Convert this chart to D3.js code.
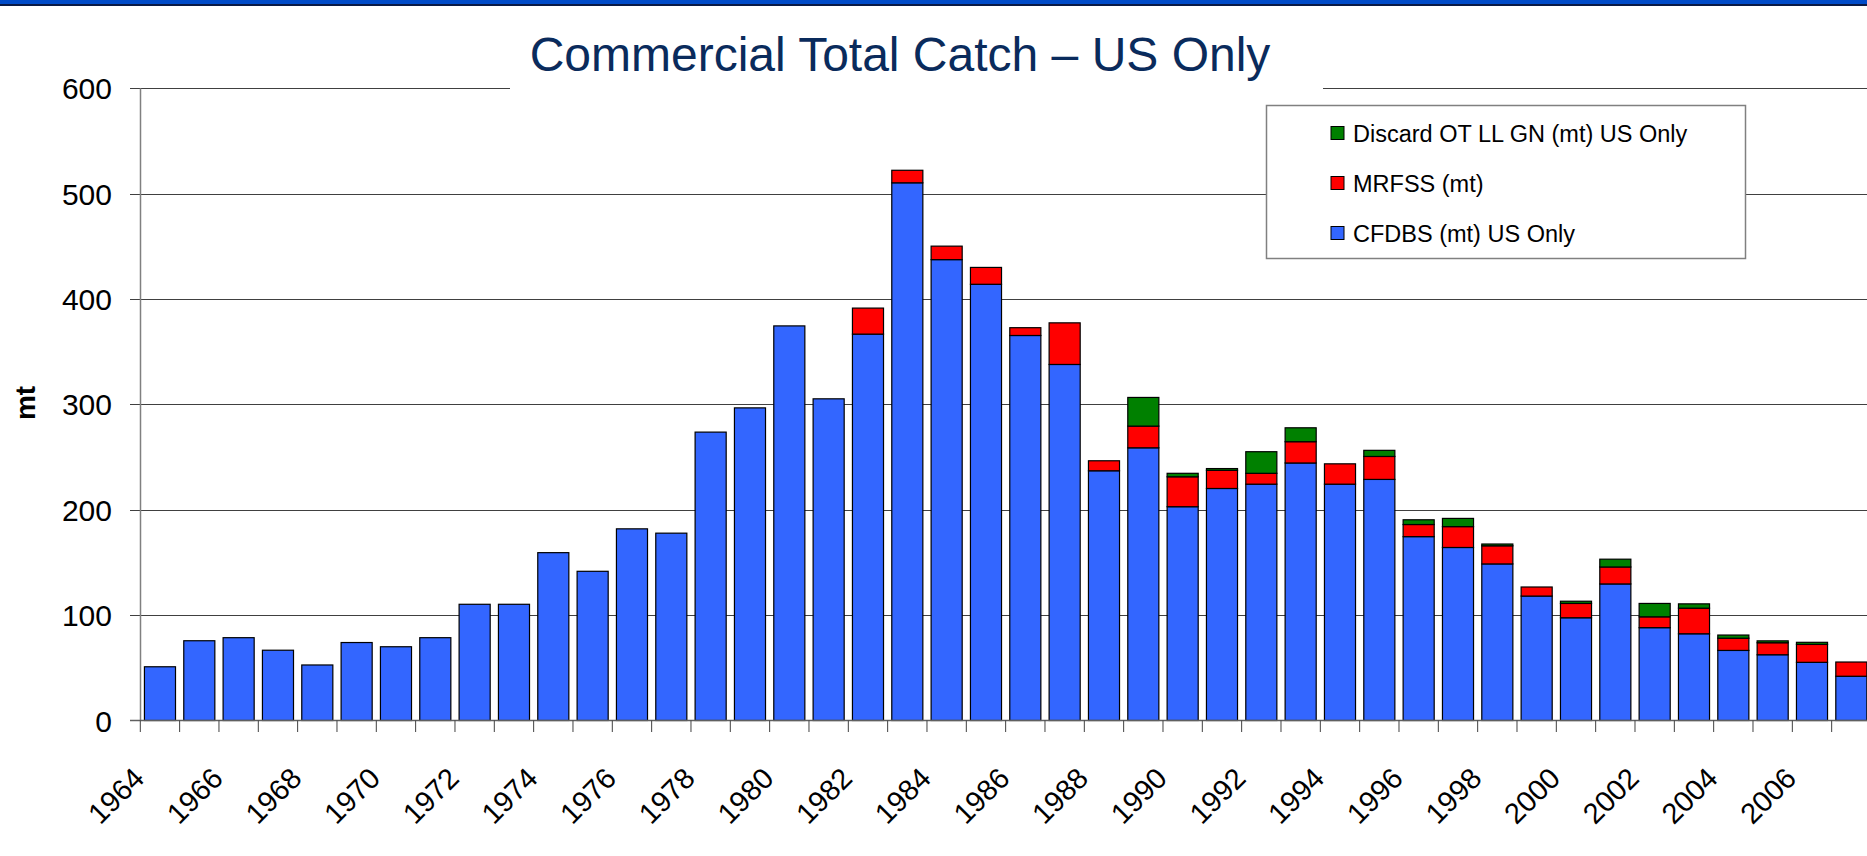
<!DOCTYPE html>
<html>
<head>
<meta charset="UTF-8">
<title>Commercial Total Catch - US Only</title>
<script src="https://d3js.org/d3.v7.min.js"></script>
<style>
  body { margin: 0; background: #fff; }
  text { font-family: "Liberation Sans", Arial, sans-serif; }
</style>
</head>
<body>
<svg id="chart"></svg>
<script>
// data (mt)
const years = d3.range(1964, 2008);
const cfdbs = [51, 75.7, 78.6, 66.7, 52.7, 74, 70, 78.6, 110.3, 110.3,
  159.3, 141.6, 181.9, 177.8, 273.7, 296.7, 374.5, 305.3, 366.7, 510.3,
  437.4, 414, 365.4, 337.9, 237, 258.8, 202.9, 220.2, 224.3, 244.4,
  224.3, 228.8, 174.5, 164.2, 148.6, 118.1, 97.5, 129.6, 88.1, 82.3,
  66.5, 62.4, 55.2, 42];
const mrfss = [0, 0, 0, 0, 0, 0, 0, 0, 0, 0,
  0, 0, 0, 0, 0, 0, 0, 0, 24.7, 11.9,
  12.8, 16, 7.4, 39.5, 9.5, 20.6, 28.4, 17.2, 10.3, 20.2,
  19.3, 21.8, 11.5, 19.8, 17.2, 8.6, 13.6, 16.1, 10.3, 24.3,
  11.6, 11.4, 17, 13.5];
const discard = [0, 0, 0, 0, 0, 0, 0, 0, 0, 0,
  0, 0, 0, 0, 0, 0, 0, 0, 0, 0,
  0, 0, 0, 0, 0, 27.2, 3.3, 1.7, 20.5, 13.2,
  0, 5.8, 4.5, 7.8, 1.7, 0, 2.1, 7.4, 12.7, 4.1,
  3, 1.8, 2, 0];
const seriesNames = ["CFDBS (mt) US Only", "MRFSS (mt)", "Discard OT LL GN (mt) US Only"];
const seriesColors = ["#3366ff", "#ff0000", "#008000"];
const yTicks = [0, 100, 200, 300, 400, 500, 600];
const title = "Commercial Total Catch \u2013 US Only";

const width = 1867, height = 856;
const svg = d3.select("#chart").attr("width", width).attr("height", height);

svg.append("rect").attr("width", width).attr("height", height).attr("fill", "#fff");

// top banner strip
svg.append("rect").attr("x", 0).attr("y", 0).attr("width", width).attr("height", 4).attr("fill", "#004bc8");
svg.append("rect").attr("x", 0).attr("y", 4).attr("width", width).attr("height", 2).attr("fill", "#0a1a45");

const x = d3.scaleBand()
  .domain(years)
  .range([140.3, 1871])
  .paddingInner(0.21)
  .paddingOuter(0.105);

const y = d3.scaleLinear().domain([0, 600]).range([720.5, 88.3]);

// gridlines + y ticks
const grid = svg.append("g");
grid.selectAll("line.grid")
  .data(yTicks.filter(d => d > 0))
  .enter().append("line")
  .attr("class", "grid")
  .attr("x1", 130).attr("x2", 1871)
  .attr("y1", d => Math.round(y(d)) + 0.5).attr("y2", d => Math.round(y(d)) + 0.5)
  .attr("stroke", "#404040").attr("stroke-width", 1.1);

grid.selectAll("text")
  .data(yTicks)
  .enter().append("text")
  .attr("x", 112)
  .attr("y", d => y(d) + 11)
  .attr("text-anchor", "end")
  .attr("font-size", 30)
  .attr("fill", "#000")
  .text(d => d);

// title, drawn over the 600 line
svg.append("rect").attr("x", 510).attr("y", 20).attr("width", 813).attr("height", 75).attr("fill", "#fff");
svg.append("text")
  .attr("x", 900).attr("y", 71)
  .attr("text-anchor", "middle")
  .attr("font-size", 48)
  .attr("fill", "#0a2b5c")
  .text(title);

// stacked bars
const rows = years.map((yr, i) => ({ year: yr, 0: cfdbs[i], 1: mrfss[i], 2: discard[i] }));
const stack = d3.stack().keys([0, 1, 2]);
const layers = stack(rows);

svg.append("g")
  .selectAll("g")
  .data(layers)
  .enter().append("g")
  .attr("fill", d => seriesColors[d.key])
  .selectAll("rect")
  .data(d => d.filter(s => s[1] - s[0] > 0))
  .enter().append("rect")
  .attr("x", d => x(d.data.year))
  .attr("y", d => y(d[1]))
  .attr("width", x.bandwidth())
  .attr("height", d => y(d[0]) - y(d[1]))
  .attr("stroke", "#000")
  .attr("stroke-width", 1.2);

// axes
const step = x.step();
svg.append("line")
  .attr("x1", 140.5).attr("x2", 140.5)
  .attr("y1", y(600)).attr("y2", y(0))
  .attr("stroke", "#808080").attr("stroke-width", 1.5);
svg.append("line")
  .attr("x1", 130).attr("x2", 1871)
  .attr("y1", y(0)).attr("y2", y(0))
  .attr("stroke", "#606060").attr("stroke-width", 1.5);

svg.append("g").selectAll("line")
  .data(years)
  .enter().append("line")
  .attr("x1", d => x(d) + x.bandwidth() / 2 - step / 2)
  .attr("x2", d => x(d) + x.bandwidth() / 2 - step / 2)
  .attr("y1", y(0)).attr("y2", y(0) + 11.5)
  .attr("stroke", "#404040").attr("stroke-width", 1);

svg.append("g").selectAll("text")
  .data(years.filter(d => d % 2 === 0))
  .enter().append("text")
  .attr("transform", d => `translate(${x(d) + x.bandwidth() / 2 - 14},780) rotate(-45)`)
  .attr("text-anchor", "end")
  .attr("font-size", 29)
  .attr("fill", "#000")
  .text(d => d);

// y axis title
svg.append("text")
  .attr("transform", "translate(35,403) rotate(-90)")
  .attr("text-anchor", "middle")
  .attr("font-size", 28)
  .attr("font-weight", "bold")
  .text("mt");

// legend
const legend = svg.append("g");
legend.append("rect")
  .attr("x", 1266.5).attr("y", 105.5).attr("width", 479).attr("height", 153)
  .attr("fill", "#fff").attr("stroke", "#808080").attr("stroke-width", 1.5);

const legendOrder = [2, 1, 0];
const item = legend.selectAll("g.item")
  .data(legendOrder)
  .enter().append("g")
  .attr("class", "item")
  .attr("transform", (d, i) => `translate(1331,${133 + i * 50})`);
item.append("rect")
  .attr("x", 0).attr("y", -6.5).attr("width", 13).attr("height", 13)
  .attr("fill", d => seriesColors[d]).attr("stroke", "#000").attr("stroke-width", 1);
item.append("text")
  .attr("x", 22).attr("y", 8.5)
  .attr("font-size", 23.5)
  .attr("fill", "#000")
  .text(d => seriesNames[d]);
</script>
</body>
</html>
